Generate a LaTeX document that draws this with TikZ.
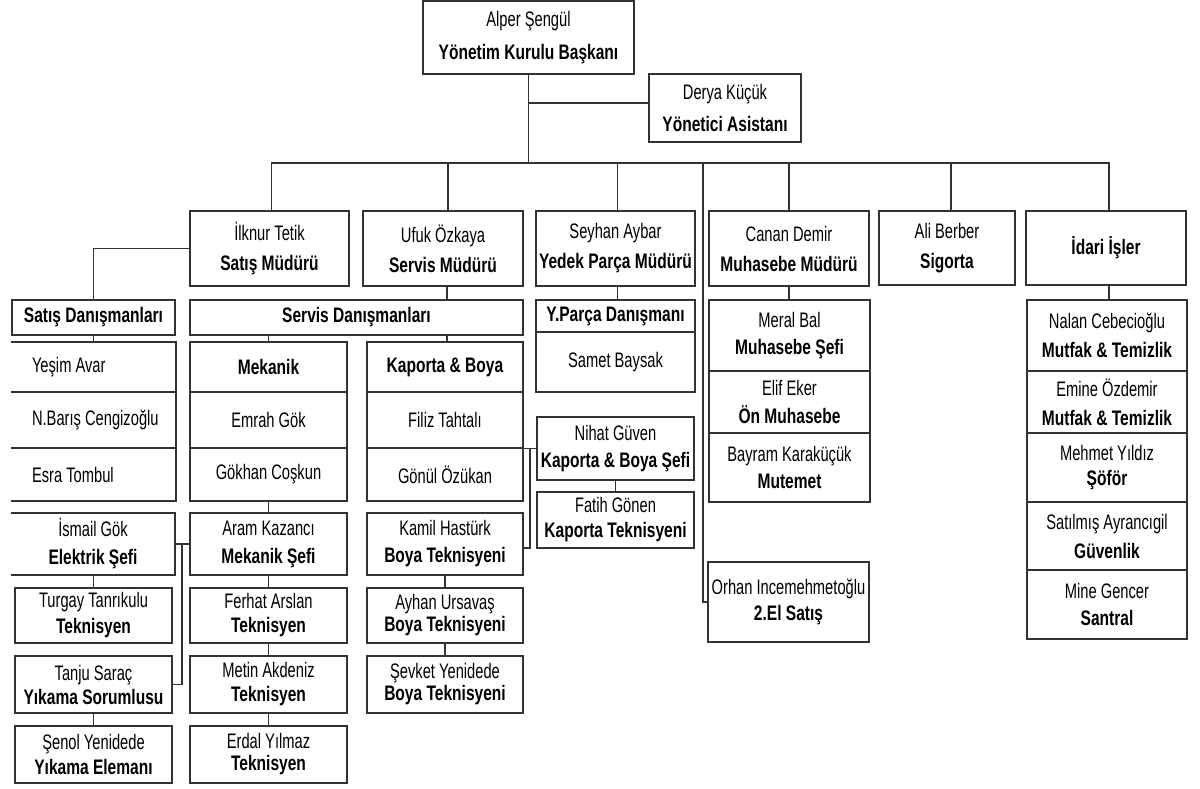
\documentclass[tikz,border=0pt]{standalone}
\usepackage{fontspec}
\setmainfont{Liberation Sans}[UprightFeatures={FakeStretch=0.7},BoldFeatures={FakeStretch=0.74}]
\definecolor{lc}{HTML}{333333}
\tikzset{
  bx/.style={draw=lc, line width=1.6pt, inner sep=0pt, align=center, text=black},
  obx/.style={draw=none, inner sep=0pt, align=center, text=black},
  ln/.style={draw=lc, line width=1.6pt},
}
% #1 line spacing, #2 name, #3 x1, #4 y1, #5 x2, #6 y2, #7 text
\newcommand\bx[7][28]{\node[bx,font=\fontsize{21}{#1}\selectfont,minimum width={#5pt-#3pt},minimum height={#6pt-#4pt}] (#2) at ({(#3+#5)/2},{(#4+#6)/2}) {#7};}
\newcommand\obx[8][28]{\node[obx,#8,font=\fontsize{21}{#1}\selectfont,minimum width={#5pt-#3pt},minimum height={#6pt-#4pt}] (#2) at ({(#3+#5)/2},{(#4+#6)/2}) {#7};
  \draw[ln] (#2.north west) -- (#2.north east) -- (#2.south east) -- (#2.south west);}
\begin{document}
\begin{tikzpicture}[x=1pt,y=-1pt]
\useasboundingbox (0,0) rectangle (1200,789);
\fill[white] (0,0) rectangle (1200,789);
% top
\bx[33]{alper}{423}{1}{634}{74}{Alper Şengül\\\textbf{Yönetim Kurulu Başkanı}}
\bx[32]{derya}{649}{74}{801}{142}{Derya Küçük\\\textbf{Yönetici Asistanı}}
% managers
\bx[30]{ilknur}{190}{211}{349}{286}{İlknur Tetik\\\textbf{Satış Müdürü}}
\bx[30]{ufuk}{363}{211}{523}{286}{Ufuk Özkaya\\\textbf{Servis Müdürü}}
\bx[30]{seyhan}{536}{211}{695}{286}{Seyhan Aybar\\\textbf{Yedek Parça Müdürü}}
\bx[30]{canan}{709}{211}{869}{286}{Canan Demir\\\textbf{Muhasebe Müdürü}}
\bx[30]{ali}{879}{211}{1015}{285}{Ali Berber\\\textbf{Sigorta}}
\bx{idari}{1026}{211}{1186}{285}{\textbf{İdari İşler}}
% second level headers
\bx{satisdan}{12}{300}{175}{335}{\textbf{Satış Danışmanları}}
\bx{servisdan}{190}{300}{523}{335}{\textbf{Servis Danışmanları}}
\bx{yparca}{536}{300}{695}{332}{\textbf{Y.Parça Danışmanı}}
\bx{samet}{536}{332}{695}{392}{Samet Baysak}
% sales list (open on the left)
\obx{yesim}{11}{342}{176}{392}{\hspace*{21pt}Yeşim Avar}{text width=165pt,align=flush left}
\obx{baris}{11}{392}{176}{448}{\hspace*{21pt}N.Barış Cengizoğlu}{text width=165pt,align=flush left}
\obx{esra}{11}{448}{176}{501}{\hspace*{21pt}Esra Tombul}{text width=165pt,align=flush left}
% mekanik column
\bx{mekanik}{190}{342}{347}{392}{\textbf{Mekanik}}
\bx{emrah}{190}{392}{347}{448}{Emrah Gök}
\bx{gokhan}{190}{448}{347}{501}{Gökhan Coşkun}
\bx[28]{aram}{190}{513}{347}{575}{Aram Kazancı\\\textbf{Mekanik Şefi}}
\bx[24]{ferhat}{190}{588}{347}{643}{Ferhat Arslan\\\textbf{Teknisyen}}
\bx[24]{metin}{190}{656}{347}{713}{Metin Akdeniz\\\textbf{Teknisyen}}
\bx[22]{erdal}{190}{726}{347}{783}{Erdal Yılmaz\\\textbf{Teknisyen}}
% kaporta column
\bx{kaporta}{367}{342}{523}{392}{\textbf{Kaporta \& Boya}}
\bx{filiz}{367}{392}{523}{448}{Filiz Tahtalı}
\bx{gonul}{367}{448}{523}{501}{Gönül Özükan}
\bx[27]{kamil}{367}{513}{523}{575}{Kamil Hastürk\\\textbf{Boya Teknisyeni}}
\bx[22]{ayhan}{367}{588}{523}{643}{Ayhan Ursavaş\\\textbf{Boya Teknisyeni}}
\bx[22]{sevket}{367}{656}{523}{713}{Şevket Yenidede\\\textbf{Boya Teknisyeni}}
% kaporta chief
\bx[27]{nihat}{537}{417}{694}{480}{Nihat Güven\\\textbf{Kaporta \& Boya Şefi}}
\bx[25]{fatih}{537}{492}{694}{548}{Fatih Gönen\\\textbf{Kaporta Teknisyeni}}
% electric column
\obx{ismail}{11}{513}{175}{575}{İsmail Gök\\\textbf{Elektrik Şefi}}{}
\bx[26]{turgay}{15}{588}{172}{643}{Turgay Tanrıkulu\\\textbf{Teknisyen}}
\bx[24]{tanju}{15}{656}{172}{713}{Tanju Saraç\\\textbf{Yıkama Sorumlusu}}
\bx[25]{senol}{15}{726}{172}{783}{Şenol Yenidede\\\textbf{Yıkama Elemanı}}
% accounting
\bx[27]{meral}{709}{300}{870}{371}{Meral Bal\\\textbf{Muhasebe Şefi}}
\bx[28]{elif}{709}{371}{870}{433}{Elif Eker\\\textbf{Ön Muhasebe}}
\bx[27]{bayram}{709}{433}{870}{502}{Bayram Karaküçük\\\textbf{Mutemet}}
\bx[26]{orhan}{708}{562}{869}{642}{Orhan Incemehmetoğlu\\\textbf{2.El Satış}}
% admin
\bx[29]{nalan}{1027}{300}{1187}{371}{Nalan Cebecioğlu\\\textbf{Mutfak \& Temizlik}}
\bx[29]{emine}{1027}{371}{1187}{433}{Emine Özdemir\\\textbf{Mutfak \& Temizlik}}
\bx[25]{mehmet}{1027}{433}{1187}{502}{Mehmet Yıldız\\\textbf{Şöför}}
\bx[29]{satilmis}{1027}{502}{1187}{570}{Satılmış Ayrancıgil\\\textbf{Güvenlik}}
\bx[27]{mine}{1027}{570}{1187}{639}{Mine Gencer\\\textbf{Santral}}
% connectors
\coordinate (bus) at (529,163);
\coordinate (dj) at (529,103);
\coordinate (ol) at (703,163);
\coordinate (aj) at (182,544);
\coordinate (nj) at (530,448);
\draw[ln] (alper.south) -- (alper.south |- bus);
\draw[ln] (dj) -- (dj -| derya.west);
\draw[ln] ([xshift=2]ilknur.north) |- ([xshift=3]idari.north |- bus) -- ([xshift=3]idari.north);
\draw[ln] ([xshift=5]ufuk.north) -- ([xshift=5]ufuk.north |- bus);
\draw[ln] ([xshift=2]seyhan.north) -- ([xshift=2]seyhan.north |- bus);
\draw[ln] (canan.north) -- (canan.north |- bus);
\draw[ln] ([xshift=4]ali.north) -- ([xshift=4]ali.north |- bus);
\draw[ln] (ol) |- (orhan.west);
\draw[ln] (ilknur.west) -| (satisdan.north);
\draw[ln] (satisdan.south) -- (satisdan.south |- yesim.north);
\draw[ln] ([xshift=4]ufuk.south) -- ([xshift=4]ufuk.south |- servisdan.north);
\draw[ln] (mekanik.north) -- (mekanik.north |- servisdan.south);
\draw[ln] ([xshift=2]kaporta.north) -- ([xshift=2]kaporta.north |- servisdan.south);
\draw[ln] ([xshift=2]seyhan.south) -- ([xshift=2]seyhan.south |- yparca.north);
\draw[ln] (canan.south) -- (canan.south |- meral.north);
\draw[ln] ([xshift=3]idari.south) -- ([xshift=3]idari.south |- nalan.north);
\draw[ln] (gokhan.south) -- (gokhan.south |- aram.north);
\draw[ln] (aram.south) -- (ferhat.north);
\draw[ln] (ferhat.south) -- (metin.north);
\draw[ln] (metin.south) -- (erdal.north);
\draw[ln] (aram.west) -- (aram.west -| ismail.east);
\draw[ln] (aj) |- (tanju.east);
\draw[ln] (turgay.north) -- (turgay.north |- ismail.south);
\draw[ln] (tanju.south) -- (senol.north);
\draw[ln] (kamil.south) -- (ayhan.north);
\draw[ln] (ayhan.south) -- (sevket.north);
\draw[ln] (nihat.south) -- (fatih.north);
\draw[ln] (nihat.west) -- (nihat.west -| filiz.east);
\draw[ln] (nj) |- ([yshift=-4]kamil.east);
\end{tikzpicture}
\end{document}
